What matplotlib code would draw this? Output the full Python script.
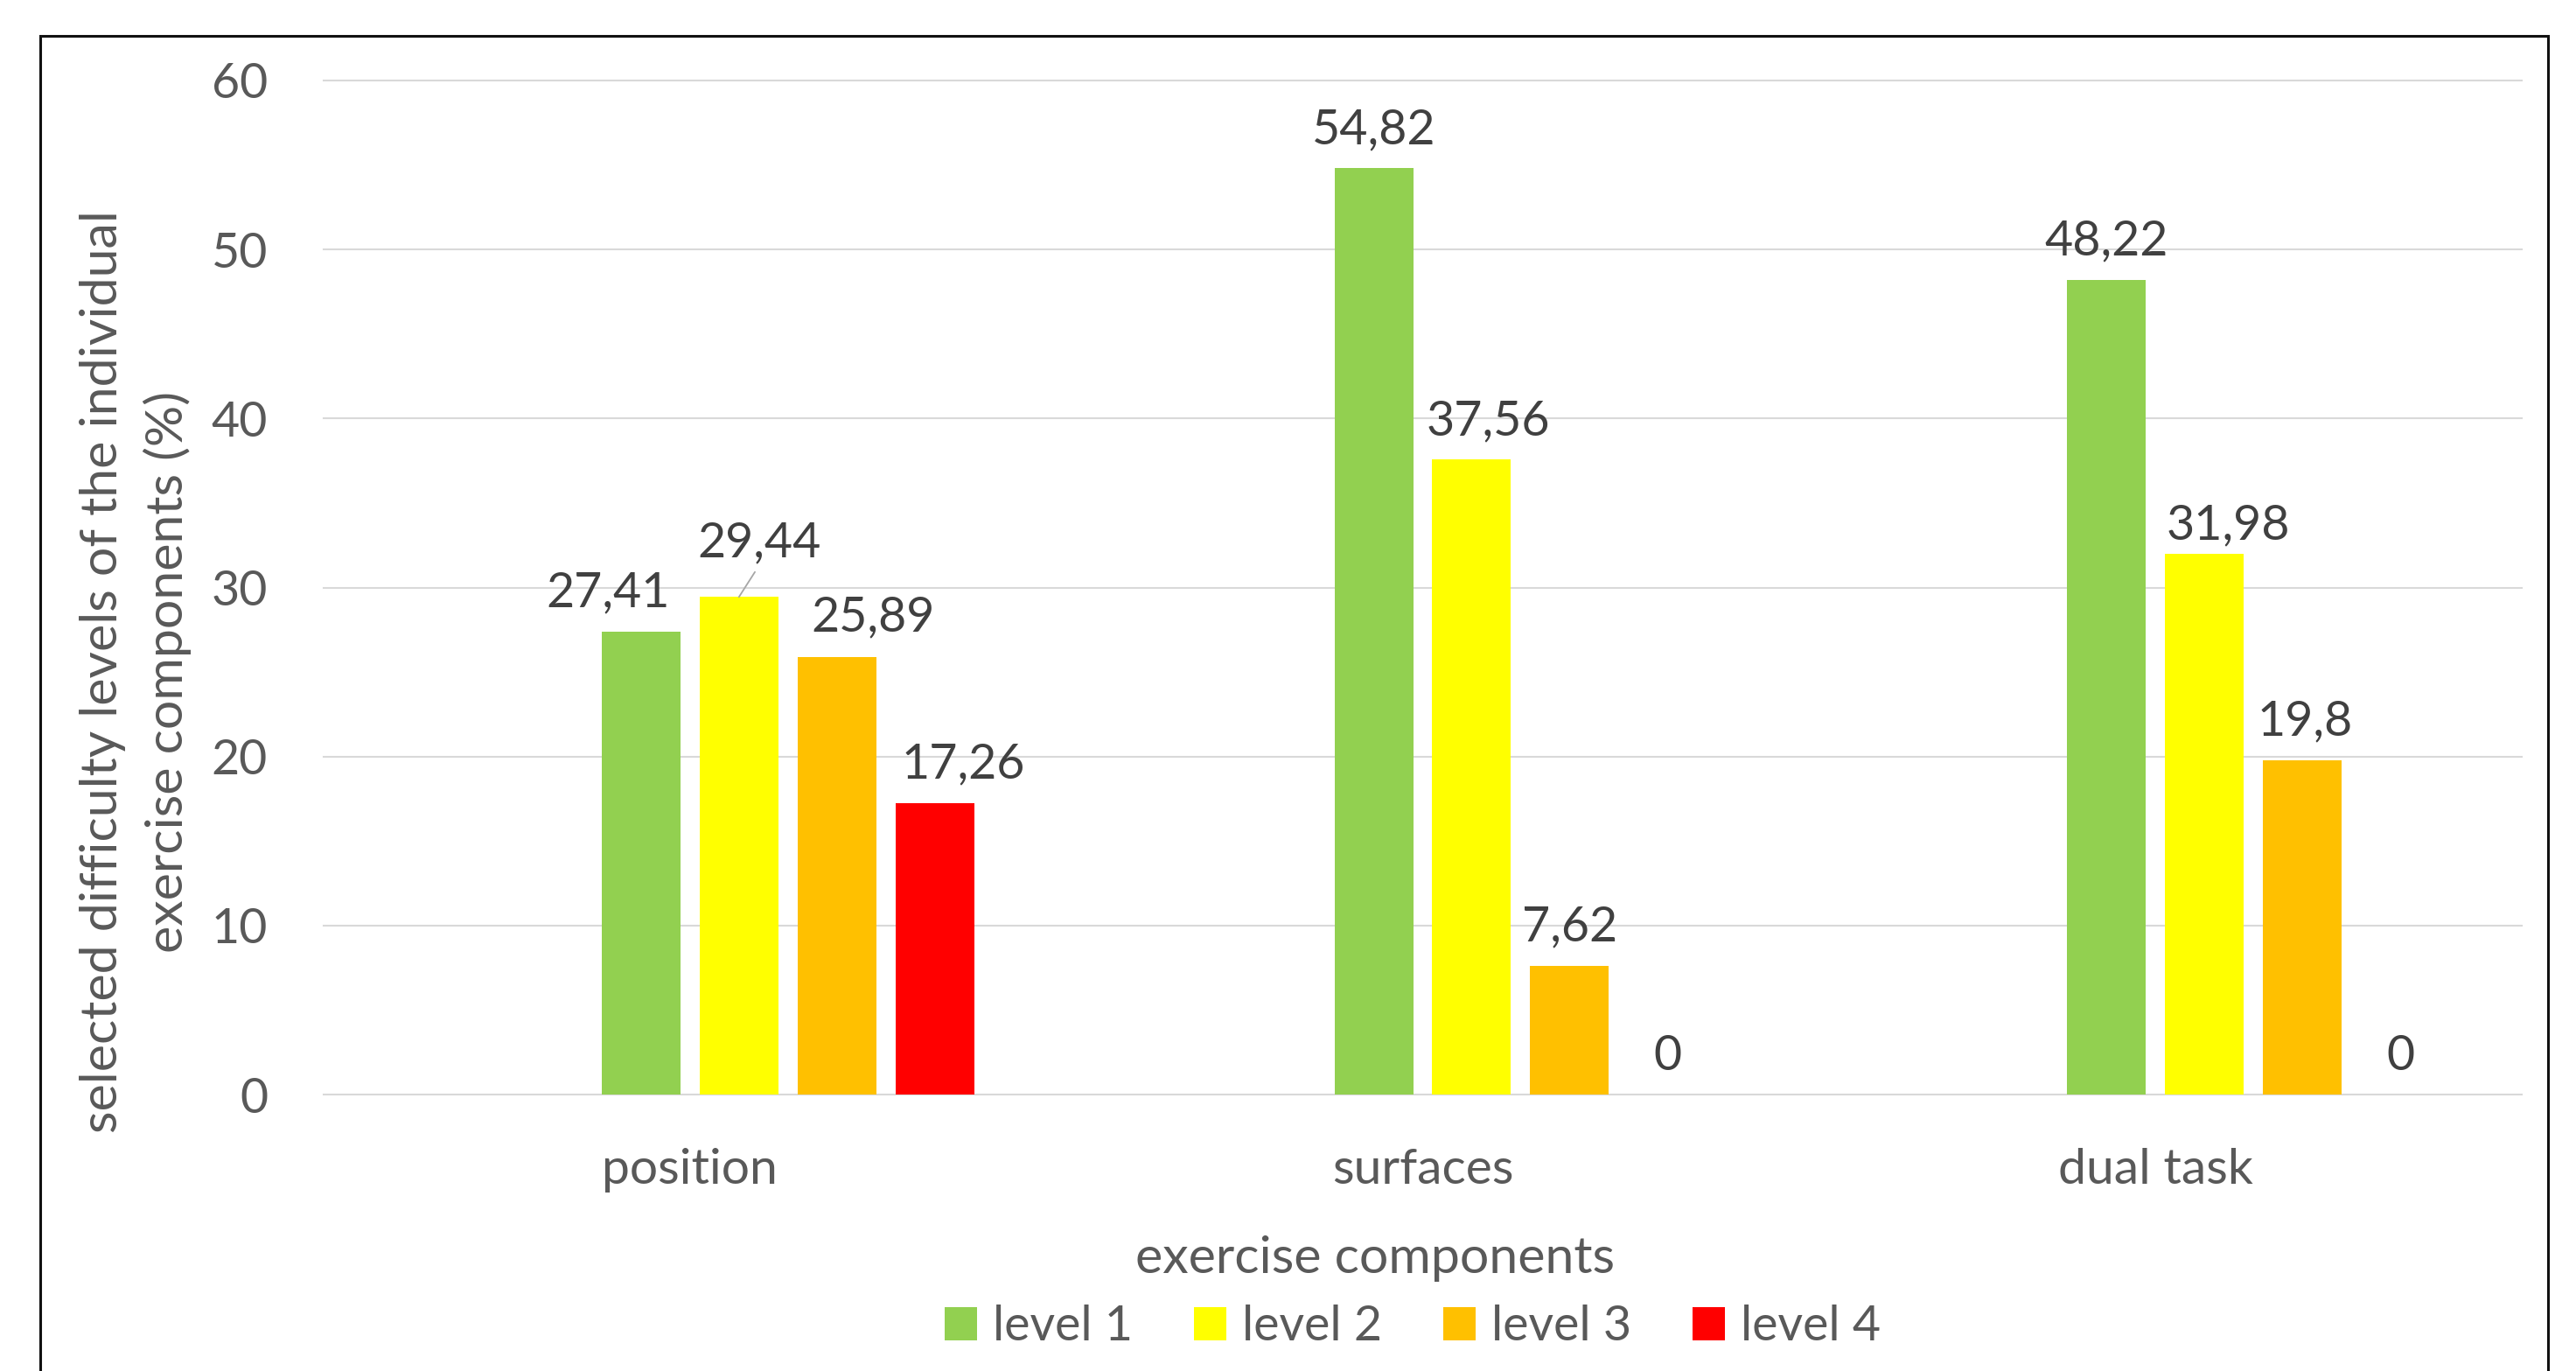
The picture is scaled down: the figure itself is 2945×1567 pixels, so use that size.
import matplotlib
matplotlib.use("Agg")
import matplotlib.pyplot as plt
import numpy as np
from matplotlib.patches import Patch, Rectangle

# ── Data ──────────────────────────────────────────────────────────────────────
categories = ["position", "surfaces", "dual task"]
series_names = ["level 1", "level 2", "level 3", "level 4"]
level_1 = [27.41, 54.82, 48.22]
level_2 = [29.44, 37.56, 31.98]
level_3 = [25.89, 7.62, 19.8]
level_4 = [17.26, 0, 0]
series_values = [level_1, level_2, level_3, level_4]

colors = ["#92D050", "#FFFF00", "#FFC000", "#FF0000"]

# manual label nudges (pixels: right, up) relative to bar top, per [series][category]
label_nudge = [
    [(-38, 28), (0, 28), (0, 28)],
    [(23, 46), (19, 28), (27, 17)],
    [(41, 30), (0, 28), (3, 28)],
    [(32, 28), (0, 28), (0, 28)],
]

W, H = 2945, 1567
DPI = 100
PX = 72 / DPI  # pixels -> points

plt.rcParams["font.family"] = ["Lato", "DejaVu Sans"]
TICK_COLOR = "#595959"
LABEL_COLOR = "#404040"
FS = 40
TITLE_FS = 42.5

fig = plt.figure(figsize=(W / DPI, H / DPI), dpi=DPI)
ax = fig.add_axes([370 / W, 1 - 1251 / H, (2883 - 370) / W, (1251 - 92) / H])

x = np.arange(len(categories))
step = 112 / 838
bar_w = 90 / 838
offsets = (np.arange(len(series_names)) - 0.5) * step

for k, (name, vals, col) in enumerate(zip(series_names, series_values, colors)):
    xs = x + offsets[k]
    ax.bar(xs, vals, width=bar_w, color=col, label=name, zorder=3)
    for j, (xv, v) in enumerate(zip(xs, vals)):
        dx, dy = label_nudge[k][j]
        txt = f"{v:g}".replace(".", ",")
        arrow = None
        if (k, j) == (1, 0):
            # leader line for the moved label
            arrow = dict(arrowstyle="-", color="#a6a6a6", lw=1.3,
                         shrinkA=4, shrinkB=0, relpos=(0.5, 0))
        ax.annotate(txt, xy=(xv, v), xytext=(dx * PX, dy * PX),
                    textcoords="offset points", ha="center", va="baseline",
                    fontsize=FS, color=LABEL_COLOR, arrowprops=arrow,
                    annotation_clip=False, zorder=4)

ax.set_xlim(-0.5, 2.5)
ax.set_ylim(0, 60)
ax.set_yticks(np.arange(0, 61, 10))
ax.set_xticks(x)
ax.set_xticklabels(categories)
ax.tick_params(axis="y", length=0, pad=46, labelsize=FS, labelcolor=TICK_COLOR)
ax.tick_params(axis="x", length=0, pad=44, labelsize=41, labelcolor=TICK_COLOR)
for s in ax.spines.values():
    s.set_visible(False)
ax.yaxis.grid(True, color="#d9d9d9", lw=1.5)
ax.set_axisbelow(True)
for gl in ax.get_ygridlines():
    gl.set_clip_on(False)

fig.text(155 / W, 1 - 768 / H,
         "selected difficulty levels of the individual\nexercise components (%)",
         rotation=90, ha="center", va="center", multialignment="center",
         fontsize=TITLE_FS, color=TICK_COLOR, linespacing=1.42)
fig.text(1572 / W, 1 - 1455 / H, "exercise components", ha="center",
         va="baseline", fontsize=TITLE_FS, color=TICK_COLOR)

handles = [Patch(facecolor=c, edgecolor="none") for c in colors]
fig.legend(handles, series_names, loc="center", bbox_to_anchor=(1615 / W, 1 - 1517 / H),
           ncol=4, frameon=False, fontsize=FS, handlelength=0.66, handleheight=0.66,
           handletextpad=0.32, columnspacing=1.27, labelcolor=TICK_COLOR,
           borderaxespad=0, borderpad=0)

fig.add_artist(Rectangle((46 / W, -0.1), (2913 - 46) / W, (1 - 41 / H) + 0.1,
                         transform=fig.transFigure, fill=False, lw=2.2,
                         edgecolor="#111111"))

fig.savefig("out.png", dpi=DPI)
